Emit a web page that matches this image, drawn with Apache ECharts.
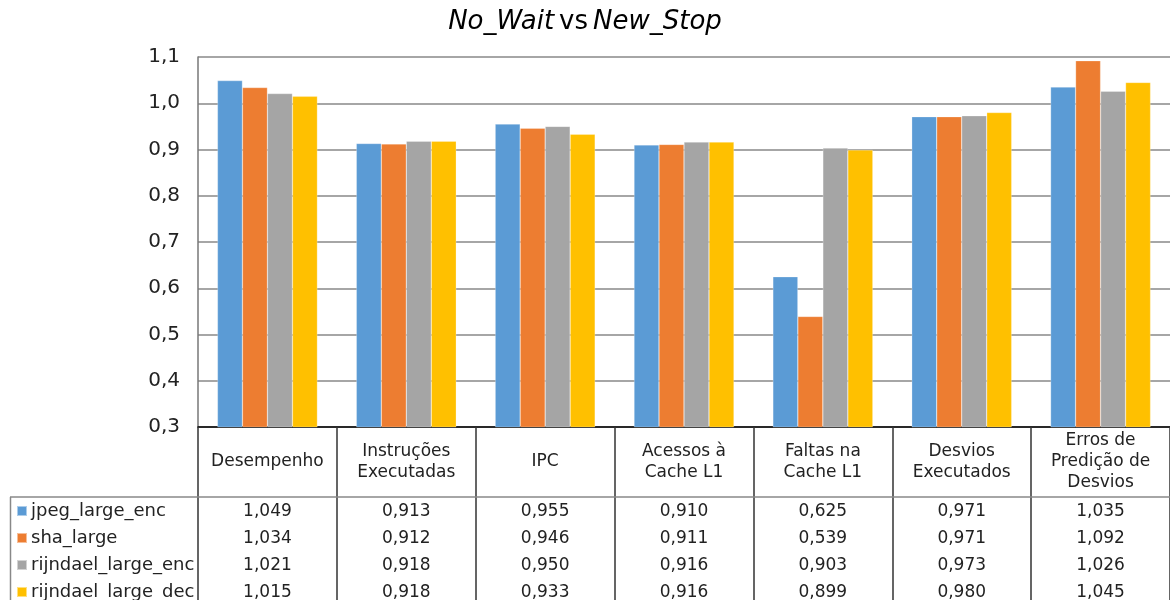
<!DOCTYPE html>
<html>
<head>
<meta charset="utf-8">
<script src="https://cdn.jsdelivr.net/npm/echarts@6/dist/echarts.min.js"></script>
<style>
  html, body { margin: 0; padding: 0; background: #fff; }
  #chart { width: 1170px; height: 600px; }
</style>
</head>
<body>
<div id="chart"></div>
<script>
// Categories (metrics) and the four benchmark series
const categories = [
  'Desempenho',
  'Instruções\nExecutadas',
  'IPC',
  'Acessos à\nCache L1',
  'Faltas na\nCache L1',
  'Desvios\nExecutados',
  'Erros de\nPredição de\nDesvios'
];
const seriesNames = ['jpeg_large_enc', 'sha_large', 'rijndael_large_enc', 'rijndael_large_dec'];
const jpegLargeEnc     = [1.049, 0.913, 0.955, 0.910, 0.625, 0.971, 1.035];
const shaLarge         = [1.034, 0.912, 0.946, 0.911, 0.539, 0.971, 1.092];
const rijndaelLargeEnc = [1.021, 0.918, 0.950, 0.916, 0.903, 0.973, 1.026];
const rijndaelLargeDec = [1.015, 0.918, 0.933, 0.916, 0.899, 0.980, 1.045];
const yTicks = [0.3, 0.4, 0.5, 0.6, 0.7, 0.8, 0.9, 1.0, 1.1];

const seriesValues = [jpegLargeEnc, shaLarge, rijndaelLargeEnc, rijndaelLargeDec];
const colors = ['#5B9BD5', '#ED7D31', '#A5A5A5', '#FFC000'];
const FONT = 'DejaVu Sans';

const fmt3 = v => v.toFixed(3).replace('.', ',');
const fmt1 = v => v.toFixed(1).replace('.', ',');

// Grid geometry (pixels)
const G_LEFT = 198, G_TOP = 57, G_BOTTOM = 173;
const ROW_H = 27;
const HEADER_H = 70;

// One hidden-line category axis per data-table row, carrying the row's values as labels
const tableAxes = seriesValues.map((vals, i) => ({
  type: 'category',
  gridIndex: 0,
  position: 'bottom',
  data: vals.map(fmt3),
  offset: HEADER_H + ROW_H * i + Math.round(ROW_H / 2) - 8,
  axisLine: { show: false },
  axisTick: { show: false },
  splitLine: { show: false },
  axisLabel: {
    margin: 0,
    interval: 0,
    fontFamily: FONT,
    fontSize: 17,
    color: '#222',
    verticalAlign: 'top'
  }
}));

const chart = echarts.init(document.getElementById('chart'), null, { renderer: 'canvas' });

chart.setOption({
  animation: false,
  backgroundColor: '#fff',
  color: colors,
  title: {
    text: '{i|No_Wait} {n|vs} {i|New_Stop}',
    left: 'center',
    top: 4,
    textStyle: {
      fontWeight: 'normal',
      rich: {
        i: { fontFamily: FONT, fontSize: 26, fontStyle: 'italic', fontWeight: 'normal', color: '#000' },
        n: { fontFamily: FONT, fontSize: 26, fontWeight: 'normal', color: '#000' }
      }
    }
  },
  legend: {
    orient: 'vertical',
    left: 16,
    top: 502,
    height: 130,
    padding: 0,
    itemWidth: 10,
    itemHeight: 10,
    itemGap: 9,
    icon: 'rect',
    selectedMode: false,
    data: seriesNames,
    textStyle: {
      fontFamily: FONT,
      fontSize: 18,
      color: '#222',
      lineHeight: 16,
      padding: [0, 0, 0, -1]
    }
  },
  grid: {
    left: G_LEFT,
    right: 0,
    top: G_TOP,
    bottom: G_BOTTOM,
    containLabel: false,
    outerBoundsMode: 'none'
  },
  xAxis: [
    {
      type: 'category',
      gridIndex: 0,
      data: categories,
      boundaryGap: true,
      axisLine: { show: true, lineStyle: { color: '#000', width: 1.5 } },
      axisTick: {
        show: true,
        alignWithLabel: false,
        length: 173,
        lineStyle: { color: '#333', width: 1.5 }
      },
      axisLabel: {
        interval: 0,
        margin: HEADER_H / 2,
        verticalAlign: 'middle',
        fontFamily: FONT,
        fontSize: 17,
        lineHeight: 21,
        color: '#222'
      }
    },
    ...tableAxes
  ],
  yAxis: {
    type: 'value',
    min: yTicks[0],
    max: yTicks[yTicks.length - 1],
    interval: 0.1,
    axisLine: { show: true, lineStyle: { color: '#777', width: 1.5 } },
    axisTick: { show: false },
    splitLine: { show: true, lineStyle: { color: '#888', width: 1.5 } },
    axisLabel: {
      margin: 18,
      fontFamily: FONT,
      fontSize: 20,
      color: '#222',
      formatter: v => fmt1(v)
    }
  },
  series: seriesNames.map((name, i) => ({
    name,
    type: 'bar',
    xAxisIndex: 0,
    data: seriesValues[i],
    barGap: '0%',
    barCategoryGap: '28%',
    itemStyle: { color: colors[i], borderColor: 'rgba(255,255,255,0.5)', borderWidth: 0.5 }
  })),
  graphic: [
    // horizontal rule under the table header
    {
      type: 'line',
      shape: { x1: 10, y1: 497, x2: 1170, y2: 497 },
      style: { stroke: '#888', lineWidth: 1.5 },
      z: 10
    },
    // left border of the legend column
    {
      type: 'line',
      shape: { x1: 10.5, y1: 497, x2: 10.5, y2: 600 },
      style: { stroke: '#888', lineWidth: 1.5 },
      z: 10
    }
  ]
});
</script>
</body>
</html>
